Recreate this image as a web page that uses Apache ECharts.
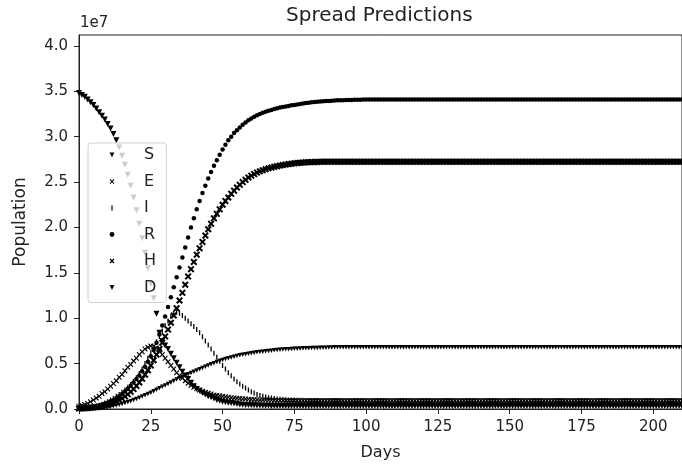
<!DOCTYPE html>
<html>
<head>
<meta charset="utf-8" />
<title>Spread Predictions</title>
<script src="https://cdn.jsdelivr.net/npm/echarts@6/dist/echarts.min.js"></script>
<style>
  html, body { margin: 0; padding: 0; background: #fff; }
  #chart { width: 682px; height: 466px; }
</style>
</head>
<body>
<div id="chart"></div>
<script>
// values in millions, one per day starting at day 0
var S = [
  34.8, 34.6, 34.4, 34.1, 33.8, 33.5, 33.1, 32.7, 32.3, 31.9,
  31.4, 30.9, 30.3, 29.6, 28.8, 27.9, 26.9, 25.8, 24.6, 23.3,
  21.9, 20.4, 18.8, 17.2, 15.5, 13.8, 12.2, 10.5, 8.4, 7.5,
  7.0, 6.6, 6.1, 5.6, 5.1, 4.6, 4.1, 3.7, 3.3, 2.9,
  2.5, 2.2, 2.0, 1.8, 1.6, 1.4, 1.3, 1.15, 1.0, 0.9,
  0.8, 0.75, 0.7, 0.65, 0.6, 0.55, 0.5, 0.48, 0.45, 0.43,
  0.41, 0.4, 0.39, 0.38, 0.37, 0.36, 0.35, 0.34, 0.34, 0.33,
  0.33, 0.33, 0.33, 0.32, 0.32, 0.32, 0.32, 0.32, 0.32, 0.32,
  0.32, 0.32, 0.32, 0.32, 0.32, 0.32, 0.32, 0.32, 0.32, 0.32,
  0.32, 0.32, 0.32, 0.32, 0.32, 0.32, 0.32, 0.32, 0.32, 0.32,
  0.32, 0.32, 0.32, 0.32, 0.32, 0.32, 0.32, 0.32, 0.32, 0.32,
  0.32, 0.32, 0.32, 0.32, 0.32, 0.32, 0.32, 0.32, 0.32, 0.32,
  0.32, 0.32, 0.32, 0.32, 0.32, 0.32, 0.32, 0.32, 0.32, 0.32,
  0.32, 0.32, 0.32, 0.32, 0.32, 0.32, 0.32, 0.32, 0.32, 0.32,
  0.32, 0.32, 0.32, 0.32, 0.32, 0.32, 0.32, 0.32, 0.32, 0.32,
  0.32, 0.32, 0.32, 0.32, 0.32, 0.32, 0.32, 0.32, 0.32, 0.32,
  0.32, 0.32, 0.32, 0.32, 0.32, 0.32, 0.32, 0.32, 0.32, 0.32,
  0.32, 0.32, 0.32, 0.32, 0.32, 0.32, 0.32, 0.32, 0.32, 0.32,
  0.32, 0.32, 0.32, 0.32, 0.32, 0.32, 0.32, 0.32, 0.32, 0.32,
  0.32, 0.32, 0.32, 0.32, 0.32, 0.32, 0.32, 0.32, 0.32, 0.32,
  0.32, 0.32, 0.32, 0.32, 0.32, 0.32, 0.32, 0.32, 0.32, 0.32,
  0.32
];
var E = [
  0.3, 0.4, 0.5, 0.6, 0.8, 1.0, 1.2, 1.4, 1.7, 1.9,
  2.2, 2.5, 2.8, 3.1, 3.5, 3.8, 4.2, 4.6, 4.9, 5.3,
  5.6, 6.0, 6.3, 6.6, 6.8, 6.95, 6.9, 6.7, 6.4, 6.0,
  5.6, 5.2, 4.8, 4.4, 4.0, 3.7, 3.4, 3.1, 2.85, 2.6,
  2.4, 2.25, 2.1, 1.95, 1.85, 1.75, 1.65, 1.55, 1.5, 1.45,
  1.4, 1.35, 1.3, 1.25, 1.22, 1.19, 1.16, 1.13, 1.1, 1.08,
  1.06, 1.04, 1.02, 1.0, 0.99, 0.98, 0.97, 0.96, 0.95, 0.94,
  0.93, 0.93, 0.92, 0.92, 0.91, 0.91, 0.91, 0.9, 0.9, 0.9,
  0.9, 0.9, 0.9, 0.9, 0.9, 0.9, 0.9, 0.9, 0.9, 0.9,
  0.9, 0.9, 0.9, 0.9, 0.9, 0.9, 0.9, 0.9, 0.9, 0.9,
  0.9, 0.9, 0.9, 0.9, 0.9, 0.9, 0.9, 0.9, 0.9, 0.9,
  0.9, 0.9, 0.9, 0.9, 0.9, 0.9, 0.9, 0.9, 0.9, 0.9,
  0.9, 0.9, 0.9, 0.9, 0.9, 0.9, 0.9, 0.9, 0.9, 0.9,
  0.9, 0.9, 0.9, 0.9, 0.9, 0.9, 0.9, 0.9, 0.9, 0.9,
  0.9, 0.9, 0.9, 0.9, 0.9, 0.9, 0.9, 0.9, 0.9, 0.9,
  0.9, 0.9, 0.9, 0.9, 0.9, 0.9, 0.9, 0.9, 0.9, 0.9,
  0.9, 0.9, 0.9, 0.9, 0.9, 0.9, 0.9, 0.9, 0.9, 0.9,
  0.9, 0.9, 0.9, 0.9, 0.9, 0.9, 0.9, 0.9, 0.9, 0.9,
  0.9, 0.9, 0.9, 0.9, 0.9, 0.9, 0.9, 0.9, 0.9, 0.9,
  0.9, 0.9, 0.9, 0.9, 0.9, 0.9, 0.9, 0.9, 0.9, 0.9,
  0.9, 0.9, 0.9, 0.9, 0.9, 0.9, 0.9, 0.9, 0.9, 0.9,
  0.9
];
var I = [
  0.05, 0.07, 0.1, 0.14, 0.19, 0.25, 0.32, 0.41, 0.52, 0.65,
  0.8, 0.98, 1.18, 1.4, 1.6, 1.85, 2.1, 2.4, 2.7, 3.05,
  3.45, 3.9, 4.4, 5.0, 5.6, 6.2, 6.8, 7.4, 8.0, 8.6,
  9.2, 9.7, 10.2, 10.55, 10.65, 10.55, 10.3, 10.0, 9.7, 9.4,
  9.1, 8.75, 8.4, 7.95, 7.5, 7.05, 6.6, 6.15, 5.7, 5.25,
  4.8, 4.4, 4.0, 3.65, 3.3, 3.0, 2.75, 2.5, 2.3, 2.1,
  1.9, 1.75, 1.6, 1.5, 1.4, 1.32, 1.25, 1.2, 1.15, 1.1,
  1.07, 1.04, 1.02, 1.0, 0.99, 0.98, 0.97, 0.96, 0.96, 0.95,
  0.95, 0.95, 0.95, 0.95, 0.95, 0.95, 0.95, 0.95, 0.95, 0.95,
  0.95, 0.95, 0.95, 0.95, 0.95, 0.95, 0.95, 0.95, 0.95, 0.95,
  0.95, 0.95, 0.95, 0.95, 0.95, 0.95, 0.95, 0.95, 0.95, 0.95,
  0.95, 0.95, 0.95, 0.95, 0.95, 0.95, 0.95, 0.95, 0.95, 0.95,
  0.95, 0.95, 0.95, 0.95, 0.95, 0.95, 0.95, 0.95, 0.95, 0.95,
  0.95, 0.95, 0.95, 0.95, 0.95, 0.95, 0.95, 0.95, 0.95, 0.95,
  0.95, 0.95, 0.95, 0.95, 0.95, 0.95, 0.95, 0.95, 0.95, 0.95,
  0.95, 0.95, 0.95, 0.95, 0.95, 0.95, 0.95, 0.95, 0.95, 0.95,
  0.95, 0.95, 0.95, 0.95, 0.95, 0.95, 0.95, 0.95, 0.95, 0.95,
  0.95, 0.95, 0.95, 0.95, 0.95, 0.95, 0.95, 0.95, 0.95, 0.95,
  0.95, 0.95, 0.95, 0.95, 0.95, 0.95, 0.95, 0.95, 0.95, 0.95,
  0.95, 0.95, 0.95, 0.95, 0.95, 0.95, 0.95, 0.95, 0.95, 0.95,
  0.95, 0.95, 0.95, 0.95, 0.95, 0.95, 0.95, 0.95, 0.95, 0.95,
  0.95
];
var R = [
  0.1, 0.12, 0.14, 0.17, 0.21, 0.26, 0.32, 0.39, 0.48, 0.58,
  0.7, 0.84, 1.0, 1.18, 1.4, 1.65, 1.93, 2.24, 2.57, 2.93,
  3.3, 3.7, 4.15, 4.65, 5.2, 5.8, 6.5, 7.3, 8.2, 9.2,
  10.2, 11.25, 12.3, 13.4, 14.5, 15.6, 16.7, 17.8, 18.9, 20.0,
  21.0, 22.0, 22.9, 23.8, 24.6, 25.4, 26.1, 26.8, 27.4, 28.0,
  28.6, 29.1, 29.6, 30.0, 30.4, 30.7, 31.0, 31.3, 31.55, 31.8,
  32.0, 32.2, 32.35, 32.5, 32.63, 32.75, 32.85, 32.95, 33.05, 33.13,
  33.2, 33.27, 33.33, 33.39, 33.45, 33.5, 33.55, 33.6, 33.65, 33.7,
  33.74, 33.78, 33.81, 33.84, 33.87, 33.9, 33.92, 33.94, 33.96, 33.98,
  34.0, 34.01, 34.02, 34.03, 34.04, 34.05, 34.06, 34.07, 34.08, 34.09,
  34.1, 34.1, 34.1, 34.1, 34.1, 34.1, 34.1, 34.1, 34.1, 34.1,
  34.1, 34.1, 34.1, 34.1, 34.1, 34.1, 34.1, 34.1, 34.1, 34.1,
  34.1, 34.1, 34.1, 34.1, 34.1, 34.1, 34.1, 34.1, 34.1, 34.1,
  34.1, 34.1, 34.1, 34.1, 34.1, 34.1, 34.1, 34.1, 34.1, 34.1,
  34.1, 34.1, 34.1, 34.1, 34.1, 34.1, 34.1, 34.1, 34.1, 34.1,
  34.1, 34.1, 34.1, 34.1, 34.1, 34.1, 34.1, 34.1, 34.1, 34.1,
  34.1, 34.1, 34.1, 34.1, 34.1, 34.1, 34.1, 34.1, 34.1, 34.1,
  34.1, 34.1, 34.1, 34.1, 34.1, 34.1, 34.1, 34.1, 34.1, 34.1,
  34.1, 34.1, 34.1, 34.1, 34.1, 34.1, 34.1, 34.1, 34.1, 34.1,
  34.1, 34.1, 34.1, 34.1, 34.1, 34.1, 34.1, 34.1, 34.1, 34.1,
  34.1, 34.1, 34.1, 34.1, 34.1, 34.1, 34.1, 34.1, 34.1, 34.1,
  34.1
];
var H = [
  0.05, 0.06, 0.08, 0.1, 0.13, 0.16, 0.2, 0.25, 0.31, 0.38,
  0.47, 0.57, 0.69, 0.83, 0.99, 1.17, 1.38, 1.62, 1.89, 2.2,
  2.54, 2.92, 3.33, 3.78, 4.27, 4.8, 5.37, 5.98, 6.62, 7.3,
  8.0, 8.75, 9.5, 10.3, 11.1, 11.95, 12.8, 13.7, 14.6, 15.4,
  16.2, 17.0, 17.7, 18.4, 19.1, 19.8, 20.4, 21.0, 21.5, 22.0,
  22.5, 22.9, 23.3, 23.7, 24.05, 24.4, 24.7, 25.0, 25.25, 25.5,
  25.7, 25.88, 26.04, 26.18, 26.3, 26.42, 26.52, 26.6, 26.68, 26.75,
  26.82, 26.88, 26.93, 26.98, 27.02, 27.06, 27.09, 27.12, 27.15, 27.17,
  27.19, 27.2, 27.21, 27.22, 27.23, 27.24, 27.25, 27.25, 27.25, 27.25,
  27.25, 27.25, 27.25, 27.25, 27.25, 27.25, 27.25, 27.25, 27.25, 27.25,
  27.25, 27.25, 27.25, 27.25, 27.25, 27.25, 27.25, 27.25, 27.25, 27.25,
  27.25, 27.25, 27.25, 27.25, 27.25, 27.25, 27.25, 27.25, 27.25, 27.25,
  27.25, 27.25, 27.25, 27.25, 27.25, 27.25, 27.25, 27.25, 27.25, 27.25,
  27.25, 27.25, 27.25, 27.25, 27.25, 27.25, 27.25, 27.25, 27.25, 27.25,
  27.25, 27.25, 27.25, 27.25, 27.25, 27.25, 27.25, 27.25, 27.25, 27.25,
  27.25, 27.25, 27.25, 27.25, 27.25, 27.25, 27.25, 27.25, 27.25, 27.25,
  27.25, 27.25, 27.25, 27.25, 27.25, 27.25, 27.25, 27.25, 27.25, 27.25,
  27.25, 27.25, 27.25, 27.25, 27.25, 27.25, 27.25, 27.25, 27.25, 27.25,
  27.25, 27.25, 27.25, 27.25, 27.25, 27.25, 27.25, 27.25, 27.25, 27.25,
  27.25, 27.25, 27.25, 27.25, 27.25, 27.25, 27.25, 27.25, 27.25, 27.25,
  27.25, 27.25, 27.25, 27.25, 27.25, 27.25, 27.25, 27.25, 27.25, 27.25,
  27.25
];
var D = [
  0, 0.01, 0.02, 0.03, 0.04, 0.05, 0.07, 0.09, 0.12, 0.16,
  0.2, 0.26, 0.32, 0.39, 0.47, 0.55, 0.65, 0.75, 0.86, 0.98,
  1.1, 1.23, 1.37, 1.51, 1.65, 1.8, 1.96, 2.12, 2.28, 2.44,
  2.6, 2.76, 2.92, 3.08, 3.24, 3.4, 3.55, 3.7, 3.84, 3.97,
  4.1, 4.24, 4.38, 4.52, 4.66, 4.8, 4.93, 5.05, 5.17, 5.29,
  5.4, 5.5, 5.59, 5.68, 5.76, 5.84, 5.91, 5.98, 6.04, 6.1,
  6.15, 6.2, 6.24, 6.28, 6.32, 6.36, 6.4, 6.43, 6.46, 6.49,
  6.52, 6.55, 6.57, 6.59, 6.61, 6.63, 6.65, 6.67, 6.68, 6.69,
  6.7, 6.71, 6.72, 6.73, 6.74, 6.75, 6.76, 6.77, 6.78, 6.79,
  6.8, 6.8, 6.8, 6.8, 6.8, 6.8, 6.8, 6.8, 6.8, 6.8,
  6.8, 6.8, 6.8, 6.8, 6.8, 6.8, 6.8, 6.8, 6.8, 6.8,
  6.8, 6.8, 6.8, 6.8, 6.8, 6.8, 6.8, 6.8, 6.8, 6.8,
  6.8, 6.8, 6.8, 6.8, 6.8, 6.8, 6.8, 6.8, 6.8, 6.8,
  6.8, 6.8, 6.8, 6.8, 6.8, 6.8, 6.8, 6.8, 6.8, 6.8,
  6.8, 6.8, 6.8, 6.8, 6.8, 6.8, 6.8, 6.8, 6.8, 6.8,
  6.8, 6.8, 6.8, 6.8, 6.8, 6.8, 6.8, 6.8, 6.8, 6.8,
  6.8, 6.8, 6.8, 6.8, 6.8, 6.8, 6.8, 6.8, 6.8, 6.8,
  6.8, 6.8, 6.8, 6.8, 6.8, 6.8, 6.8, 6.8, 6.8, 6.8,
  6.8, 6.8, 6.8, 6.8, 6.8, 6.8, 6.8, 6.8, 6.8, 6.8,
  6.8, 6.8, 6.8, 6.8, 6.8, 6.8, 6.8, 6.8, 6.8, 6.8,
  6.8, 6.8, 6.8, 6.8, 6.8, 6.8, 6.8, 6.8, 6.8, 6.8,
  6.8
];
var xTicks = [0, 25, 50, 75, 100, 125, 150, 175, 200];
var yTicks = [0, 5, 10, 15, 20, 25, 30, 35, 40];

// marker shapes (matplotlib-ish)
var triDown = 'path://M0,0 L10,0 L5,8.7 Z';
var xThin = 'path://M0,1.4 L1.4,0 L5,3.6 L8.6,0 L10,1.4 L6.4,5 L10,8.6 L8.6,10 L5,6.4 L1.4,10 L0,8.6 L3.6,5 Z';
var xBold = 'path://M0,2 L2,0 L5,3 L8,0 L10,2 L7,5 L10,8 L8,10 L5,7 L2,10 L0,8 L3,5 Z';
// thin vertical bar inside a square box (tiny corner dots keep the box)
var vbar = 'path://M0,0 L0.01,0 L0.01,0.01 Z M3.7,0 L6.3,0 L6.3,10 L3.7,10 Z M9.99,9.99 L10,9.99 L10,10 Z';

function pts(arr) {
  return arr.map(function (v, i) { return [i, v]; });
}
function mk(name, arr, symbol, size) {
  return {
    name: name,
    type: 'line',
    data: pts(arr),
    showSymbol: true,
    symbol: symbol,
    symbolSize: size,
    lineStyle: { width: 0, opacity: 0 },
    itemStyle: { color: '#000' },
    emphasis: { disabled: true },
    silent: true
  };
}

var font = 'DejaVu Sans';
var chart = echarts.init(document.getElementById('chart'));
chart.setOption({
  animation: false,
  backgroundColor: '#fff',
  title: {
    text: 'Spread Predictions',
    left: 286,
    top: 6,
    padding: 0,
    textStyle: { fontFamily: font, fontSize: 20, fontWeight: 'normal', color: '#222' }
  },
  graphic: [{
    type: 'text',
    left: 80,
    top: 16,
    style: { text: '1e7', font: '15px "DejaVu Sans"', fill: '#222' }
  }],
  grid: {
    left: 79, right: -2, top: 35, bottom: 56,
    show: true, borderColor: '#222', borderWidth: 1, backgroundColor: 'transparent'
  },
  legend: {
    orient: 'vertical',
    left: 88,
    top: 143,
    padding: [4, 10, 7, 4],
    itemWidth: 40,
    itemHeight: 6,
    itemGap: 10.5,
    backgroundColor: 'rgba(255,255,255,0.8)',
    borderColor: '#d0d0d0',
    borderWidth: 1,
    borderRadius: 3,
    z: 10,
    textStyle: { fontFamily: font, fontSize: 16, color: '#222', lineHeight: 16, padding: [0, 0, 0, 7] },
    data: ['S', 'E', 'I', 'R', 'H', 'D']
  },
  xAxis: {
    type: 'value',
    min: 0,
    max: 210,
    name: 'Days',
    nameLocation: 'middle',
    nameGap: 36,
    nameTextStyle: { fontFamily: font, fontSize: 16, color: '#222' },
    splitLine: { show: false },
    axisLine: { lineStyle: { color: '#222' } },
    axisTick: { show: true, length: 5, lineStyle: { color: '#222' }, customValues: xTicks },
    axisLabel: { fontFamily: font, fontSize: 15, color: '#222', margin: 11, customValues: xTicks }
  },
  yAxis: {
    type: 'value',
    min: 0,
    max: 41.2,
    name: 'Population',
    nameLocation: 'middle',
    nameGap: 50,
    nameTextStyle: { fontFamily: font, fontSize: 17, color: '#222' },
    splitLine: { show: false },
    axisLine: { show: true, lineStyle: { color: '#222' } },
    axisTick: { show: true, length: 5, lineStyle: { color: '#222' }, customValues: yTicks },
    axisLabel: {
      fontFamily: font, fontSize: 15, color: '#222', margin: 11,
      customValues: yTicks,
      formatter: function (v) { return (v / 10).toFixed(1); }
    }
  },
  series: [
    mk('S', S, triDown, 6),
    mk('E', E, xThin, 5.5),
    mk('I', I, vbar, 5),
    mk('R', R, 'circle', 4.5),
    mk('H', H, xBold, 7),
    mk('D', D, triDown, 4.5)
  ]
});
</script>
</body>
</html>
